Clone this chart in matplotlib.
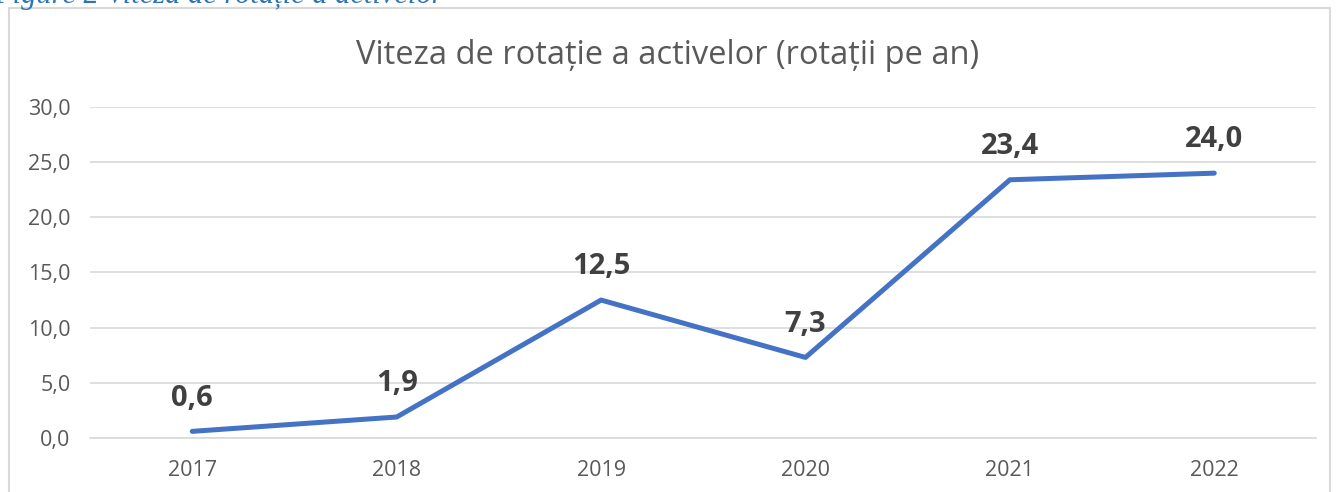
import matplotlib
matplotlib.use("Agg")
import matplotlib.pyplot as plt
from matplotlib.patches import Rectangle

# data
years = ["2017", "2018", "2019", "2020", "2021", "2022"]
rotatii = [0.6, 1.9, 12.5, 7.3, 23.4, 24.0]
y_ticks = [0, 5, 10, 15, 20, 25, 30]

plt.rcParams['font.family'] = ['Open Sans', 'DejaVu Sans']

fig = plt.figure(figsize=(13.36, 4.92), dpi=100)
ax = fig.add_axes([0.0674, 0.1098, 0.918, 0.6728])

x = range(len(years))
ax.plot(x, rotatii, color='#4472C4', lw=3.6, solid_capstyle='round', zorder=3)

for i, v in zip(x, rotatii):
    lbl = ("%.1f" % v).replace('.', ',')
    ax.annotate(lbl, (i, v), xytext=(0, 24), textcoords='offset points',
                ha='center', va='center', fontsize=21, fontweight='bold',
                color='#404040')

ax.set_xlim(-0.5, len(years) - 0.5)
ax.set_ylim(0, 30)
ax.set_yticks(y_ticks)
ax.set_yticklabels([("%.1f" % t).replace('.', ',') for t in y_ticks])
ax.set_xticks(list(x))
ax.set_xticklabels(years)
ax.tick_params(axis='both', length=0, labelsize=15.5, colors='#595959')
ax.tick_params(axis='y', pad=14)
ax.tick_params(axis='x', pad=16)
ax.grid(axis='y', color='#D9D9D9', lw=1.2)
ax.set_axisbelow(True)
for s in ['top', 'right', 'left']:
    ax.spines[s].set_visible(False)
ax.spines['bottom'].set_color('#D9D9D9')
ax.spines['bottom'].set_linewidth(1.2)

fig.text(0.5, 0.888, "Viteza de rotație a activelor (rotații pe an)",
         ha='center', va='center', fontsize=23.5, color='#595959')

# chart border
fig.patches.append(Rectangle((9 / 1336, -0.05), 1321 / 1336, 1.05 - 8 / 492,
                             transform=fig.transFigure, fill=False,
                             edgecolor='#D9D9D9', lw=1.5))

# caption cut off at the top
fig.text(-0.004, 1 - 3 / 492, "Figure 2 Viteza de rotație a activelor",
         ha='left', va='baseline', fontsize=22, style='italic',
         family=['Liberation Serif'], color='#2E74B5')

fig.savefig("out.png", dpi=100)
